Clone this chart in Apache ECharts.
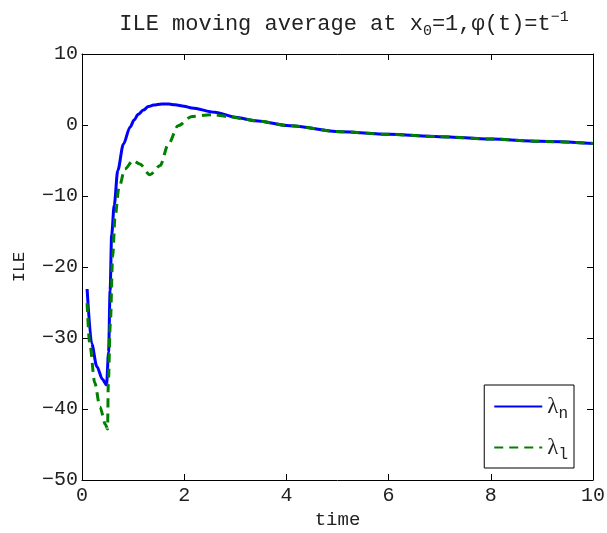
<!DOCTYPE html>
<html>
<head>
<meta charset="utf-8">
<script src="https://cdn.jsdelivr.net/npm/echarts@6/dist/echarts.min.js"></script>
<style>
  html, body { margin: 0; padding: 0; background: #fff; }
  #chart { width: 607px; height: 533px; }
</style>
</head>
<body>
<div id="chart"></div>
<script>
// lambda_n (solid blue)
const timeN = [0.1, 0.19, 0.29, 0.4, 0.48, 0.52, 0.55, 0.58, 0.63, 0.7, 0.81, 0.94, 1.02, 1.1, 1.2, 1.3, 1.4, 1.56, 1.7, 1.82, 2.0, 2.15, 2.6, 3.0, 3.39, 4.07, 5.05, 6.0, 7.0, 8.0, 8.96, 10];
const ileN = [-23.1, -30.8, -34.0, -35.8, -36.6, -32, -23.3, -15.5, -11.3, -6.4, -2.7, -0.3, 0.7, 1.5, 2.1, 2.6, 2.8, 2.95, 2.95, 2.85, 2.65, 2.4, 1.8, 1.1, 0.6, -0.1, -0.94, -1.32, -1.64, -1.98, -2.3, -2.6];

// lambda_l (dashed green)
const timeL = [0.1, 0.15, 0.25, 0.35, 0.46, 0.5, 0.515, 0.554, 0.6, 0.646, 0.724, 0.84, 1.0, 1.13, 1.33, 1.53, 1.69, 1.88, 2.15, 2.54, 2.86, 3.2, 3.39, 4.07, 5.05, 6.0, 7.0, 8.0, 8.96, 10];
const ileL = [-25.1, -30.7, -36.3, -39.7, -42.2, -42.8, -36.4, -28, -18.6, -13, -8.8, -6.2, -5.0, -5.5, -7.0, -5.7, -2.7, -0.1, 1.2, 1.45, 1.2, 0.8, 0.6, -0.1, -0.94, -1.32, -1.64, -1.98, -2.3, -2.6];

const xTicks = [0, 2, 4, 6, 8, 10];
const yTicks = [-50, -40, -30, -20, -10, 0, 10];

const mono = '"Liberation Mono", "Courier New", monospace';
const serif = '"Liberation Serif", "Times New Roman", serif';

const chart = echarts.init(document.getElementById('chart'));

function boxAxis(extra) {
  return Object.assign({
    type: 'value',
    axisLine: { show: true, onZero: false, lineStyle: { color: '#000', width: 1 } },
    axisTick: { show: true, inside: true, length: 6, lineStyle: { color: '#000', width: 1 } },
    splitLine: { show: false }
  }, extra);
}

chart.setOption({
  backgroundColor: '#fff',
  animation: false,
  title: {
    text: 'ILE moving average at x{sub|0}=1,φ(t)=t{sup|−1}',
    left: 339,
    textAlign: 'center',
    top: 4,
    textStyle: {
      fontFamily: mono,
      fontSize: 22,
      fontWeight: 'normal',
      color: '#222',
      rich: {
        sub: { fontFamily: mono, fontSize: 15, color: '#222', padding: [15, 0, 0, 0] },
        sup: { fontFamily: mono, fontSize: 15, color: '#222', padding: [0, 0, 13, 0] }
      }
    }
  },
  grid: { left: 82, right: 14, top: 54, bottom: 53, containLabel: false, outerBoundsMode: 'none' },
  legend: {
    orient: 'vertical',
    right: 33,
    top: 385,
    itemWidth: 48,
    itemHeight: 14,
    itemGap: 14,
    padding: [10, 6, 5, 9],
    borderColor: '#000',
    borderWidth: 1,
    backgroundColor: '#fff',
    borderRadius: 0,
    itemStyle: { color: 'transparent', borderColor: 'transparent', opacity: 0 },
    data: ['n', 'l'],
    formatter: name => '{lam|λ}{sub|' + name + '}',
    textStyle: {
      rich: {
        lam: { fontFamily: serif, fontSize: 23, color: '#222' },
        sub: { fontFamily: mono, fontSize: 16, color: '#222', padding: [15, 0, 0, 0] }
      }
    }
  },
  xAxis: [
    boxAxis({
      position: 'bottom', min: 0, max: 10, interval: 2,
      name: 'time', nameLocation: 'middle', nameGap: 29,
      nameTextStyle: { fontFamily: mono, fontSize: 19, color: '#222' },
      axisLabel: {
        fontFamily: mono, fontSize: 20, color: '#222', margin: 6,
        formatter: v => (xTicks.indexOf(v) >= 0 ? String(v) : '')
      }
    }),
    boxAxis({
      position: 'top', min: 0, max: 10, interval: 2, axisLabel: { show: false }
    })
  ],
  yAxis: [
    boxAxis({
      position: 'left', min: -50, max: 10, interval: 10,
      name: 'ILE', nameLocation: 'middle', nameGap: 54,
      nameTextStyle: { fontFamily: mono, fontSize: 17, color: '#222' },
      axisLabel: {
        fontFamily: mono, fontSize: 20, color: '#222', margin: 4,
        formatter: v => (yTicks.indexOf(v) >= 0 ? String(v).replace('-', '−') : '')
      }
    }),
    boxAxis({
      position: 'right', min: -50, max: 10, interval: 10, axisLabel: { show: false }
    })
  ],
  series: [
    {
      name: 'n',
      type: 'line',
      xAxisIndex: 0,
      yAxisIndex: 0,
      data: timeN.map((t, i) => [t, ileN[i]]),
      showSymbol: false,
      symbol: 'none',
      smooth: 0.3,
      smoothMonotone: 'x',
      lineStyle: { color: '#0000ff', width: 3 },
      itemStyle: { color: '#0000ff' }
    },
    {
      name: 'l',
      type: 'line',
      xAxisIndex: 0,
      yAxisIndex: 0,
      data: timeL.map((t, i) => [t, ileL[i]]),
      showSymbol: false,
      symbol: 'none',
      smooth: 0.3,
      smoothMonotone: 'x',
      lineStyle: { color: '#008000', width: 3, type: [9, 6] },
      itemStyle: { color: '#008000' }
    }
  ]
});
</script>
</body>
</html>
